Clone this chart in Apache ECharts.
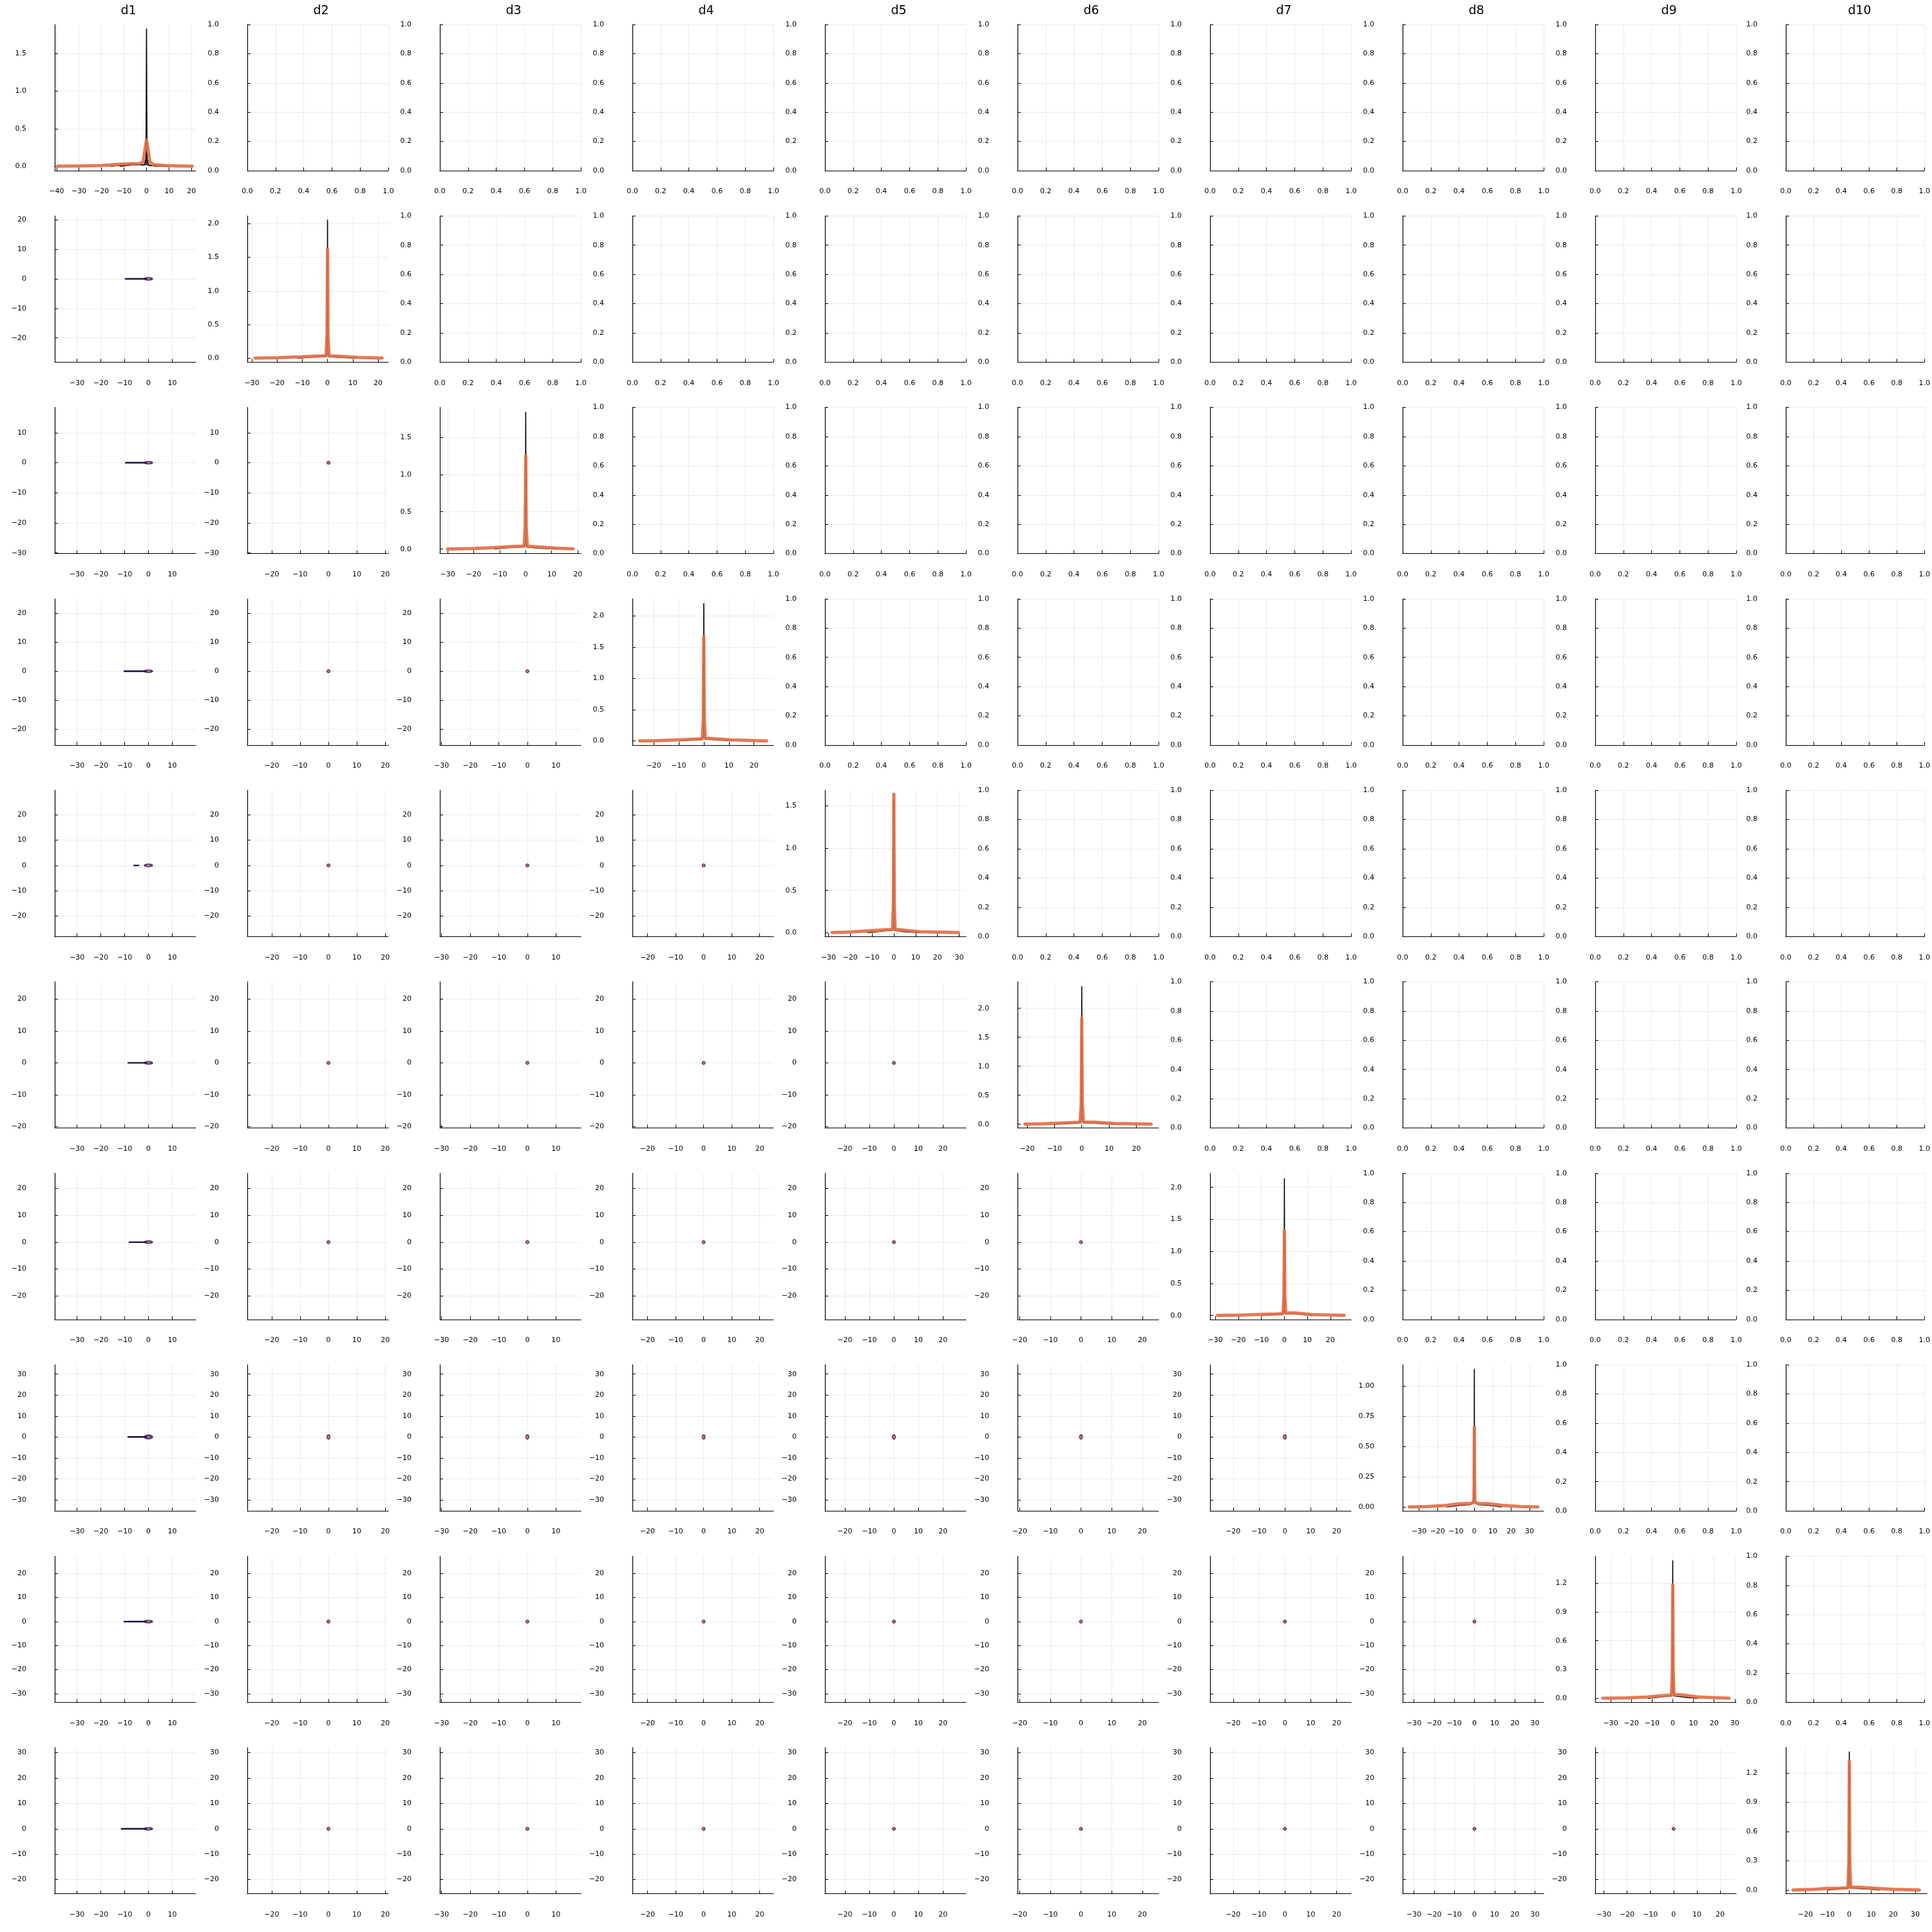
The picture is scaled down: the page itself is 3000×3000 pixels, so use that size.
<!DOCTYPE html>
<html><head><meta charset="utf-8">
<script src="https://cdn.jsdelivr.net/npm/echarts@6/dist/echarts.min.js"></script>
<style>html,body{margin:0;padding:0;background:#fff}#c{width:3000px;height:3000px}</style>
</head><body><div id="c"></div>
<script>
// ---------------- data ----------------
const names = ['d1','d2','d3','d4','d5','d6','d7','d8','d9','d10'];

// diagonal (density) axis ranges
const diagXMin = [-40.8, -31.8, -33.0, -28.5, -31.6, -23.5, -32.3, -39.0, -37.5, -28.9];
const diagXMax = [21.9, 24.1, 21.2, 27.8, 33.1, 28.1, 29.0, 37.7, 30.7, 35.3];
const diagYMin = [-0.057, -0.058, -0.060, -0.065, -0.045, -0.064, -0.061, -0.031, -0.041, -0.038];
const diagYMax = [1.886, 2.115, 1.900, 2.270, 1.686, 2.457, 2.220, 1.175, 1.480, 1.460];
const diagYStep = [0.5, 0.5, 0.5, 0.5, 0.5, 0.5, 0.5, 0.25, 0.3, 0.3];
const diagYDec = [1, 1, 1, 1, 1, 1, 1, 2, 1, 1];

// lower-triangle ranges: x per column (d1..d9), y per row (d2..d10)
const lowerXMin = [-39.4, -28.6, -30.6, -25.4, -28.1, -20.7, -28.9, -35.6, -33.7];
const lowerXMax = [19.9, 21.1, 18.7, 24.9, 29.4, 25.3, 25.6, 34.3, 26.9];
const lowerYMin = [-28.2, -30.2, -25.5, -28.1, -20.4, -28.8, -35.3, -33.6, -25.6];
const lowerYMax = [21.3, 18.4, 25.0, 29.7, 25.4, 25.7, 34.5, 27.2, 32.0];
const lowerStep = 10;
const upperTicks = [0, 0.2, 0.4, 0.6, 0.8, 1.0];

// density curves (x, density)
const orange_d1 = [[-39.5,0.002],[-30,0.004],[-20,0.012],[-12,0.028],[-7,0.036],[-3,0.038],[-1.5,0.06],[-0.8,0.2],[0,0.35],[0.8,0.2],[1.5,0.06],[3,0.025],[8,0.012],[14,0.006],[20.3,0.002]];
const black_d1  = [[-16,0.002],[-10,0.02],[-5,0.028],[-1,0.02],[-0.2,0.1],[0,1.83],[0.2,0.1],[1,0.015],[5,0.006],[10,0.001]];
const black2_d1 = [[-12,0.002],[-6,0.02],[-0.3,0.02],[0,0.72],[0.3,0.02],[4,0.004],[8,0.001]];
const orange_d2 = [[-28.7,0.002],[-20,0.006],[-12,0.018],[-5,0.03],[-0.6,0.035],[-0.2,0.35],[0,1.62],[0.2,0.35],[0.6,0.035],[5,0.028],[12,0.012],[21.6,0.003]];
const black_d2  = [[-12,0.001],[-5,0.02],[-0.6,0.03],[-0.12,0.1],[0,2.06],[0.12,0.1],[0.6,0.025],[5,0.012],[12,0.001]];
const orange_d3 = [[-30,0.002],[-20,0.008],[-12,0.02],[-5,0.035],[-0.6,0.04],[-0.2,0.3],[0,1.25],[0.2,0.3],[0.6,0.04],[5,0.03],[12,0.012],[18.2,0.003]];
const black_d3  = [[-12,0.001],[-5,0.025],[-0.6,0.03],[-0.12,0.1],[0,1.84],[0.12,0.1],[0.6,0.025],[5,0.012],[12,0.001]];
const orange_d4 = [[-25.6,0.002],[-18,0.006],[-10,0.018],[-4,0.03],[-0.6,0.035],[-0.2,0.35],[0,1.67],[0.2,0.35],[0.6,0.045],[5,0.035],[12,0.015],[25.1,0.002]];
const black_d4  = [[-10,0.001],[-4,0.02],[-0.6,0.03],[-0.12,0.1],[0,2.2],[0.12,0.1],[0.6,0.03],[7,0.015],[12,0.001]];
const orange_d5 = [[-28.3,0.002],[-20,0.008],[-10,0.025],[-4,0.035],[-0.6,0.038],[-0.2,0.35],[0,1.64],[0.2,0.35],[0.6,0.038],[5,0.03],[12,0.012],[29.7,0.002]];
const black_d5  = [[-12,0.001],[-5,0.02],[-0.6,0.03],[-0.12,0.1],[0,1.58],[0.12,0.1],[0.6,0.025],[5,0.012],[12,0.001]];
const orange_d6 = [[-20.8,0.002],[-14,0.008],[-8,0.02],[-3,0.03],[-0.6,0.035],[-0.2,0.35],[0,1.83],[0.2,0.35],[0.6,0.04],[5,0.035],[12,0.015],[25.4,0.002]];
const black_d6  = [[-10,0.001],[-4,0.02],[-0.6,0.03],[-0.12,0.1],[0,2.38],[0.12,0.1],[0.6,0.03],[6,0.015],[12,0.001]];
const orange_d7 = [[-29.1,0.002],[-20,0.006],[-10,0.018],[-3,0.025],[-0.6,0.03],[-0.2,0.3],[0,1.32],[0.2,0.3],[0.6,0.04],[5,0.04],[12,0.015],[26.0,0.002]];
const black_d7  = [[-10,0.001],[-3,0.02],[-0.6,0.025],[-0.12,0.1],[0,2.14],[0.12,0.1],[0.6,0.03],[7,0.02],[12,0.001]];
const orange_d8 = [[-35.4,0.002],[-25,0.006],[-15,0.015],[-8,0.028],[-2,0.03],[-0.3,0.04],[-0.12,0.2],[0,0.66],[0.12,0.2],[0.3,0.04],[2,0.03],[8,0.028],[15,0.015],[25,0.005],[34.5,0.002]];
const black_d8  = [[-15,0.001],[-8,0.015],[-2,0.02],[-0.1,0.06],[0,1.14],[0.1,0.06],[2,0.02],[8,0.015],[15,0.001]];
const orange_d9 = [[-33.8,0.002],[-22,0.006],[-12,0.015],[-5,0.028],[-0.6,0.035],[-0.2,0.3],[0,1.18],[0.2,0.3],[0.6,0.04],[5,0.035],[12,0.015],[27.2,0.002]];
const black_d9  = [[-12,0.001],[-5,0.018],[-0.6,0.025],[-0.12,0.1],[0,1.435],[0.12,0.1],[0.6,0.025],[6,0.012],[12,0.001]];
const orange_d10 = [[-25.6,0.002],[-16,0.008],[-10,0.018],[-4,0.02],[-0.6,0.025],[-0.2,0.3],[0,1.32],[0.2,0.3],[0.6,0.03],[5,0.03],[12,0.018],[20,0.008],[31.9,0.002]];
const black_d10  = [[-10,0.001],[-4,0.015],[-0.6,0.02],[-0.12,0.1],[0,1.42],[0.12,0.1],[0.6,0.02],[8,0.012],[14,0.001]];

const orangeCurves = [orange_d1, orange_d2, orange_d3, orange_d4, orange_d5, orange_d6, orange_d7, orange_d8, orange_d9, orange_d10];
const blackCurves = [[black_d1, black2_d1], [black_d2], [black_d3], [black_d4], [black_d5], [black_d6], [black_d7], [black_d8], [black_d9], [black_d10]];

// lower triangle: chain trail in column d1 (x segments at y = 0), per row d2..d10
const col1Segments = [
  [[-9.9, 0.5]], [[-9.8, 0.5]], [[-10.4, 0.5]], [[-6.3, -3.9]], [[-8.8, 0.5]],
  [[-8.3, 0.5]], [[-8.8, 0.5]], [[-10.4, 0.5]], [[-11.6, 0.5]]
];
const blobX = [0, 0, 0, 0, 0, 0, 0, 0, 0];   // per column
const blobY = [0, 0, 0, 0, 0, 0, 0, 0, 0];   // per row

// ---------------- layout ----------------
const colLeft = [85, 384, 683, 982, 1281, 1580, 1879, 2178, 2477, 2773];
const cellW = 219, cellH = 227;
const rowTop = r => 38 + 297.3 * r;
const FONT = 'DejaVu Sans';

function ticksFor(min, max, step) {
  const out = [];
  for (let k = Math.ceil(min / step - 1e-9); k * step <= max + 1e-9; k++) out.push(+(k * step).toFixed(6));
  return out;
}
function fmt(v, dec) {
  const s = Math.abs(v) < 1e-9 ? (0).toFixed(dec) : v.toFixed(dec);
  return s.replace('-', '\u2212');
}
function axis(kind, gi, min, max, step, dec, ticks) {
  const isX = kind === 'x';
  return {
    type: 'value', gridIndex: gi, min: min, max: max, minInterval: step, maxInterval: step,
    axisLine: { show: true, onZero: false, lineStyle: { color: '#000', width: 1.2 } },
    axisTick: { show: true, inside: true, length: 5, customValues: ticks, lineStyle: { color: '#000', width: 1 } },
    axisLabel: { show: true, customValues: ticks, formatter: v => fmt(v, dec), margin: isX ? 27 : 44,
      fontSize: 11, color: '#000', fontFamily: FONT, hideOverlap: false },
    splitLine: { show: true, lineStyle: { color: '#ebebeb', width: 1 } }
  };
}

const grids = [], xAxes = [], yAxes = [], series = [], titles = [];
for (let r = 0; r < 10; r++) {
  for (let c = 0; c < 10; c++) {
    const gi = grids.length;
    grids.push({ left: colLeft[c], top: rowTop(r), width: cellW, height: cellH, containLabel: false });
    if (r === c) {
      xAxes.push(axis('x', gi, diagXMin[c], diagXMax[c], 10, 0, ticksFor(diagXMin[c], diagXMax[c], 10)));
      yAxes.push(axis('y', gi, diagYMin[c], diagYMax[c], diagYStep[c], diagYDec[c], ticksFor(diagYMin[c], diagYMax[c], diagYStep[c])));
      blackCurves[c].forEach(d => series.push({
        type: 'line', xAxisIndex: gi, yAxisIndex: gi, data: d, showSymbol: false, symbol: 'none',
        lineStyle: { color: '#000', width: 1.6 }, z: 2
      }));
      series.push({
        type: 'line', xAxisIndex: gi, yAxisIndex: gi, data: orangeCurves[c], showSymbol: false, symbol: 'none',
        lineStyle: { color: '#e26f46', width: 5, opacity: 0.92, join: 'round', cap: 'round' }, z: 3
      });
    } else if (r > c) {
      const xmin = lowerXMin[c], xmax = lowerXMax[c], ymin = lowerYMin[r - 1], ymax = lowerYMax[r - 1];
      xAxes.push(axis('x', gi, xmin, xmax, lowerStep, 0, ticksFor(xmin, xmax, lowerStep)));
      yAxes.push(axis('y', gi, ymin, ymax, lowerStep, 0, ticksFor(ymin, ymax, lowerStep)));
      if (c === 0) {
        col1Segments[r - 1].forEach(seg => series.push({
          type: 'line', xAxisIndex: gi, yAxisIndex: gi,
          data: [[seg[0], blobY[r - 1]], [seg[1], blobY[r - 1]]], showSymbol: false, symbol: 'none',
          lineStyle: { color: '#1b0c41', width: 2.4 }, z: 2
        }));
      }
      const big = r === 7;
      const outer = c === 0 ? [13, big ? 7 : 5] : (big ? [5, 7] : 5);
      const inner = c === 0 ? [5, 2.5] : (big ? [2.5, 4] : 2.5);
      series.push({
        type: 'scatter', xAxisIndex: gi, yAxisIndex: gi, data: [[blobX[c], blobY[r - 1]]],
        symbol: 'circle', symbolSize: outer,
        itemStyle: { color: c === 0 ? '#3b0f70' : '#a52c60', borderColor: '#1b0c41', borderWidth: 1 }, z: 3
      });
      series.push({
        type: 'scatter', xAxisIndex: gi, yAxisIndex: gi, data: [[blobX[c], blobY[r - 1]]],
        symbol: 'circle', symbolSize: inner,
        itemStyle: { color: c === 0 ? '#f9a81c' : '#f07f3c' }, z: 4
      });
    } else {
      xAxes.push(axis('x', gi, 0, 1, 0.2, 1, upperTicks));
      yAxes.push(axis('y', gi, 0, 1, 0.2, 1, upperTicks));
    }
  }
}
for (let c = 0; c < 10; c++) {
  titles.push({
    text: names[c], left: colLeft[c] + cellW / 2, top: 3, textAlign: 'center',
    textStyle: { fontSize: 19, fontWeight: 'normal', fontFamily: FONT, color: '#000' }
  });
}

const chart = echarts.init(document.getElementById('c'), null, { renderer: 'canvas' });
chart.setOption({
  animation: false,
  backgroundColor: '#fff',
  title: titles,
  grid: grids,
  xAxis: xAxes,
  yAxis: yAxes,
  series: series
});
</script>
</body></html>
